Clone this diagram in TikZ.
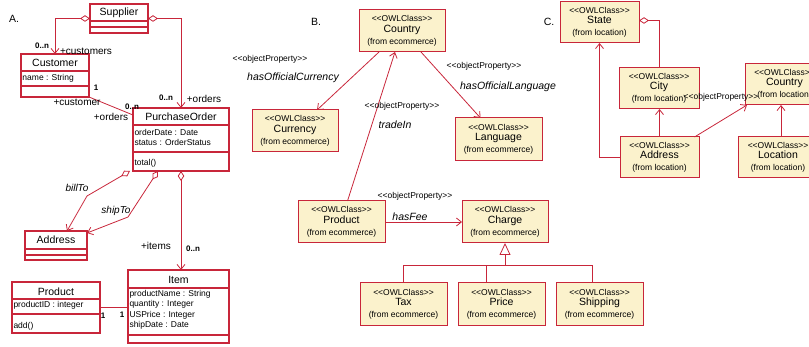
\documentclass[tikz,border=0pt]{standalone}
\usepackage{fontspec}
\setmainfont{Liberation Sans}
\usetikzlibrary{arrows.meta}
\definecolor{umlred}{RGB}{200,38,58}
\definecolor{owlfill}{RGB}{251,242,204}

\begin{document}
\begin{tikzpicture}[x=1pt, y=-1pt,
  every node/.style={inner sep=0pt, outer sep=0pt},
  classbox/.style={draw=umlred, line width=1.1pt, fill=white, anchor=north west},
  owlbox/.style={draw=umlred, line width=1pt, fill=owlfill, anchor=north west, align=center,
    font=\fontsize{8.5}{10.5}\selectfont, minimum width=86pt, minimum height=42pt},
  cname/.style={font=\fontsize{10.5}{12}\selectfont},
  attr/.style={font=\fontsize{8.5}{10}\selectfont, anchor=west},
  role/.style={font=\fontsize{10}{12}\selectfont},
  mult/.style={font=\bfseries\fontsize{8}{10}\selectfont},
  stereo/.style={font=\fontsize{8.5}{10}\selectfont},
  propname/.style={font=\itshape\fontsize{10.5}{12}\selectfont},
  sect/.style={font=\fontsize{10.5}{12}\selectfont},
  split/.style={draw=umlred, line width=1.1pt},
  conn/.style={draw=umlred, line width=0.8pt},
  navi/.style={conn, -{Straight Barb[length=5pt,width=8pt]}},
  aggr/.style={conn, {Diamond[open,length=10pt,width=6.5pt]}-{Straight Barb[length=5pt,width=8pt]}},
  aggrend/.style={conn, {Diamond[open,length=10pt,width=6.5pt]}-},
  inherit/.style={conn, -{Triangle[open,length=12pt,width=11pt]}}
]
\useasboundingbox (0,0) rectangle (809,347);
\clip (0,0) rectangle (809,347);

% A. purchase orders
\node[sect] (labela) at (14,19) {A.};

\node[classbox, minimum width=58pt, minimum height=29pt] (supplier) at (90,4) {};
\node[cname] (suppliert) at (119,12.5) {Supplier};
\draw[split] (90,21) -- (148,21) (90,27) -- (148,27);

\node[classbox, minimum width=68pt, minimum height=43pt] (customer) at (21,54) {};
\node[cname] (customert) at (55,62.5) {Customer};
\draw[split] (21,71) -- (89,71) (21,86) -- (89,86);
\node[attr] (customera) at (22.5,78.5) {name : String};

\node[classbox, minimum width=96pt, minimum height=63pt] (po) at (133,108) {};
\node[cname] (pot) at (181,116.5) {PurchaseOrder};
\draw[split] (133,125) -- (229,125) (133,152) -- (229,152);
\node[attr] (poa) at (134.5,132) {orderDate : Date};
\node[attr] (pob) at (134.5,142) {status : OrderStatus};
\node[attr] (poc) at (134.5,163) {total()};

\node[classbox, minimum width=62pt, minimum height=29pt] (address) at (25,231) {};
\node[cname] (addresst) at (56,240) {Address};
\draw[split] (25,249) -- (87,249) (25,255) -- (87,255);

\node[classbox, minimum width=88pt, minimum height=51pt] (producta) at (12,282) {};
\node[cname] (productat) at (56,291.5) {Product};
\draw[split] (12,299) -- (100,299) (12,314) -- (100,314);
\node[attr] (productaa) at (13.5,305.5) {productID : integer};
\node[attr] (productab) at (13.5,326) {add()};

\node[classbox, minimum width=101pt, minimum height=73pt] (item) at (128,270) {};
\node[cname] (itemt) at (178.5,279.5) {Item};
\draw[split] (128,288) -- (229,288) (128,335) -- (229,335);
\node[attr] (itema) at (129.5,294.5) {productName : String};
\node[attr] (itemb) at (129.5,304.5) {quantity : Integer};
\node[attr] (itemc) at (129.5,315) {USPrice : Integer};
\node[attr] (itemd) at (129.5,325.5) {shipDate : Date};

\coordinate (billbend) at (87,196);
\coordinate (shipbend) at (128,217);

\draw[aggr] (supplier.west) -| (customer.north);
\draw[aggr] (supplier.east) -| (po.north);
\draw[conn] (customer.south east) -- ([yshift=-7pt]po.north west);
\draw[aggr] ([xshift=-3pt]po.south west) -- (billbend) -- ([xshift=11pt]address.north);
\draw[aggr] ([xshift=-23pt]po.south) -- (shipbend) -- ([yshift=-2pt]address.north east);
\draw[aggr] (po.south) -- (po.south |- item.north);
\draw[conn] (producta.east) -- (producta.east -| item.west);

\node[mult] (m1) at (42,46) {0..n};
\node[role] (r1) at (86,51) {+customers};
\node[mult] (m2) at (96,87.5) {1};
\node[role] (r2) at (77,102) {+customer};
\node[mult] (m3) at (132,106.5) {0..n};
\node[role] (r3) at (111,117) {+orders};
\node[mult] (m4) at (166,98) {0..n};
\node[role] (r4) at (204,99) {+orders};
\node[propname, font=\itshape\fontsize{10}{12}\selectfont] (r5) at (77,188) {billTo};
\node[propname, font=\itshape\fontsize{10}{12}\selectfont] (r6) at (116,211) {shipTo};
\node[role] (r7) at (156,246) {+items};
\node[mult] (m5) at (193,249) {0..n};
\node[mult] (m6) at (103,316) {1};
\node[mult] (m7) at (122,315) {1};

% B. ecommerce ontology
\node[sect] (labelb) at (316,21.5) {B.};

\node[owlbox] (countryb) at (359,10) {<{}<OWLClass>{}>\\{\fontsize{10.5}{11}\selectfont Country}\\[1.5pt](from ecommerce)};
\node[owlbox] (currency) at (252,110) {<{}<OWLClass>{}>\\{\fontsize{10.5}{11}\selectfont Currency}\\[1.5pt](from ecommerce)};
\node[owlbox, minimum width=87pt, minimum height=43pt] (language) at (455,118) {<{}<OWLClass>{}>\\{\fontsize{10.5}{11}\selectfont Language}\\[1.5pt](from ecommerce)};
\node[owlbox, minimum width=87pt] (productb) at (298,201) {<{}<OWLClass>{}>\\{\fontsize{10.5}{11}\selectfont Product}\\[1.5pt](from ecommerce)};
\node[owlbox] (charge) at (462,201) {<{}<OWLClass>{}>\\{\fontsize{10.5}{11}\selectfont Charge}\\[1.5pt](from ecommerce)};
\node[owlbox, minimum width=87pt, minimum height=43pt] (tax) at (360,283) {<{}<OWLClass>{}>\\{\fontsize{10.5}{11}\selectfont Tax}\\[1.5pt](from ecommerce)};
\node[owlbox, minimum width=87pt, minimum height=43pt] (price) at (458,283) {<{}<OWLClass>{}>\\{\fontsize{10.5}{11}\selectfont Price}\\[1.5pt](from ecommerce)};
\node[owlbox, minimum width=87pt, minimum height=43pt] (shipping) at (556,283) {<{}<OWLClass>{}>\\{\fontsize{10.5}{11}\selectfont Shipping}\\[1.5pt](from ecommerce)};

\coordinate (genjoin) at (505,265);

\draw[navi] ([xshift=-23pt]countryb.south) -- ([xshift=22pt]currency.north);
\draw[navi] ([xshift=19pt]countryb.south) -- ([xshift=-18pt]language.north);
\draw[navi] ([xshift=6pt]productb.north) -- ([xshift=-7pt]countryb.south);
\draw[navi] (productb.east) -- (productb.east -| charge.west);
\draw[inherit] (genjoin) -- (charge.south);
\draw[conn] (tax.north) |- (genjoin);
\draw[conn] ([xshift=-15.5pt]price.north) |- (genjoin);
\draw[conn] ([xshift=-7.5pt]shipping.north) |- (genjoin);

\node[stereo] (s1) at (270,59) {<{}<objectProperty>{}>};
\node[propname] (p1) at (293,78) {hasOfficialCurrency};
\node[stereo] (s2) at (484,66) {<{}<objectProperty>{}>};
\node[propname] (p2) at (508,87) {hasOfficialLanguage};
\node[stereo] (s3) at (402,106) {<{}<objectProperty>{}>};
\node[propname] (p3) at (395,125) {tradeIn};
\node[stereo] (s4) at (415,196) {<{}<objectProperty>{}>};
\node[propname] (p4) at (410,217) {hasFee};

% C. location ontology
\node[sect] (labelc) at (549,22) {C.};

\node[owlbox, minimum width=79pt, minimum height=41pt] (statec) at (560,2) {<{}<OWLClass>{}>\\{\fontsize{10.5}{11}\selectfont State}\\[1.5pt](from location)};
\node[owlbox, minimum width=80pt, minimum height=41pt] (city) at (619,68) {<{}<OWLClass>{}>\\{\fontsize{10.5}{11}\selectfont City}\\[1.5pt](from location)};
\node[owlbox, minimum width=79pt, minimum height=41pt] (countryc) at (745,64) {<{}<OWLClass>{}>\\{\fontsize{10.5}{11}\selectfont Country}\\[1.5pt](from location)};
\node[owlbox, minimum width=79pt, minimum height=41pt] (addressc) at (620,137) {<{}<OWLClass>{}>\\{\fontsize{10.5}{11}\selectfont Address}\\[1.5pt](from location)};
\node[owlbox, minimum width=80pt, minimum height=41pt] (location) at (738,137) {<{}<OWLClass>{}>\\{\fontsize{10.5}{11}\selectfont Location}\\[1.5pt](from location)};

\draw[aggrend] ([yshift=2pt]statec.east) -| (city.north);
\draw[navi] (addressc.west) -| (statec.south);
\draw[navi] (addressc.north) -- (addressc.north |- city.south);
\draw[navi] ([xshift=35pt]addressc.north) -- ([xshift=2pt]countryc.south west);
\draw[navi] ([xshift=3pt]location.north) -- ([xshift=3pt]location.north |- countryc.south);

\node[stereo] (s5) at (721,97) {<{}<objectProperty>{}>};

\end{tikzpicture}
\end{document}
